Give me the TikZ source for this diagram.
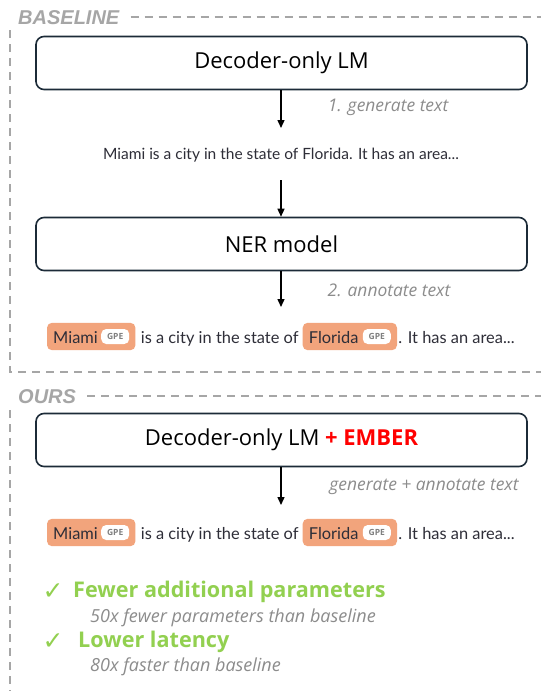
\documentclass[tikz,border=0pt]{standalone}
\usepackage{fontspec}
\setmainfont{Open Sans}
\newfontfamily\sentfont{Lato}
\newfontfamily\labfont{Liberation Sans}
\newfontfamily\symfont{DejaVu Sans}
\usetikzlibrary{positioning,fit,backgrounds,arrows.meta,calc}
\definecolor{labgray}{HTML}{A6A6A6}
\definecolor{notegray}{HTML}{8C8C8C}
\definecolor{boxcol}{HTML}{1C2B38}
\definecolor{txtcol}{HTML}{2E2E38}
\definecolor{salmon}{HTML}{F2A47C}
\definecolor{embred}{HTML}{FF0000}
\definecolor{okgreen}{HTML}{92D050}
\newcommand\annline[2]{%
  \node[entsent, anchor=base west] (#1m) at (53,#2) {Miami};
  \node[pill, anchor=west] (#1g) at ([xshift=3pt,yshift=6.5pt]#1m.base east) {GPE};
  \begin{scope}[on background layer]
    \node[ent, fit=(#1m)(#1g)] (#1e) {};
  \end{scope}
  \node[entsent, anchor=base west] (#1a) at ($(#1e.east |- #1m.base)+(5,0)$) {is a city in the state of};
  \node[entsent, anchor=base west] (#1f) at ($(#1a.base east)+(10,0)$) {Florida};
  \node[pill, anchor=west] (#1h) at ([xshift=4pt,yshift=6.5pt]#1f.base east) {GPE};
  \begin{scope}[on background layer]
    \node[ent, fit=(#1f)(#1h)] (#1k) {};
  \end{scope}
  \node[entsent, anchor=base west] (#1b) at ($(#1k.east |- #1m.base)+(1,0)$) {. It has an area...};
}
\begin{document}
\begin{tikzpicture}[x=1pt,y=-1pt,
  seclabel/.style={font=\labfont\fontsize{20}{20}\selectfont\bfseries\itshape, text=labgray, inner sep=0, anchor=west},
  frame/.style={draw=labgray, line width=1.6pt, dash pattern=on 8pt off 6pt},
  lmbox/.style={draw=boxcol, line width=1.6pt, rounded corners=8pt, minimum width=491pt, minimum height=53pt, font=\fontsize{22}{22}\selectfont, text=black},
  arr/.style={-{Triangle[length=8pt,width=7pt]}, line width=1.4pt, black},
  note/.style={font=\fontsize{17.4}{17.4}\selectfont\itshape, text=notegray, inner sep=0},
  sentence/.style={font=\sentfont\fontsize{15.5}{15.5}\selectfont, text=txtcol, inner sep=0},
  entsent/.style={font=\sentfont\fontsize{16.4}{16.4}\selectfont, text=txtcol, inner sep=0},
  ent/.style={fill=salmon, rounded corners=5pt, inner xsep=6pt, inner ysep=6pt},
  pill/.style={fill=white, rounded corners=5pt, minimum width=28pt, minimum height=15pt, inner sep=0, font=\fontsize{8.5}{8.5}\selectfont\bfseries, text=gray},
  good/.style={font=\fontsize{21.6}{21.6}\selectfont\bfseries, text=okgreen, inner sep=0, anchor=west},
  tick/.style={font=\symfont\fontsize{25}{25}\selectfont, text=okgreen, inner sep=0},
  sub/.style={font=\fontsize{18}{18}\selectfont\itshape, text=notegray, inner sep=0, anchor=west}]
\begin{scope}[on background layer]
\fill[white] (0,0) rectangle (541,691);
\end{scope}
\useasboundingbox (0,0) rectangle (541,691);

% ---- baseline section
\node[seclabel] (bl) at (18,18) {BASELINE};
\draw[frame] ($(bl.east)+(11,-1)$) -- (541,17);
\draw[frame] (10,30) -- (10,372) -- (541,372);

\node[lmbox] (lm1) at (281.5,63) {Decoder-only LM};
\coordinate (t1) at (281,128);
\draw[arr] (lm1.south -| t1) -- (t1);
\node[note] (n1) at (388,107) {1. generate text};
\node[sentence, anchor=base] (s1) at (281,159) {Miami is a city in the state of Florida. It has an area...};
\node[lmbox] (ner) at (281.5,244) {NER model};
\coordinate (f2) at (281,180);
\draw[arr] (f2) -- (ner.north -| f2);
\coordinate (t3) at (281,307);
\draw[arr] (ner.south -| t3) -- (t3);
\node[note] (n2) at (389,290) {2. annotate text};
\annline{a}{343}

% ---- ours section
\node[seclabel] (ou) at (18,397) {OURS};
\draw[frame] ($(ou.east)+(11,-1)$) -- (541,396);
\draw[frame] (10,410) -- (10,691);

\node[lmbox] (lm2) at (281.5,440) {Decoder-only LM \textcolor{embred}{\bfseries + EMBER}};
\coordinate (t4) at (281,505);
\draw[arr] (lm2.south -| t4) -- (t4);
\node[note] (n3) at (424,487) {generate + annotate text};
\annline{b}{539}

\node[tick] (c1) at (53,592) {✓};
\node[good] (g1) at (73,592) {Fewer additional parameters};
\node[sub] (d1) at (90,618) {50x fewer parameters than baseline};
\node[tick] (c2) at (53,642) {✓};
\node[good] (g2) at (78,642) {Lower latency};
\node[sub] (d2) at (90,667) {80x faster than baseline};
\end{tikzpicture}
\end{document}
